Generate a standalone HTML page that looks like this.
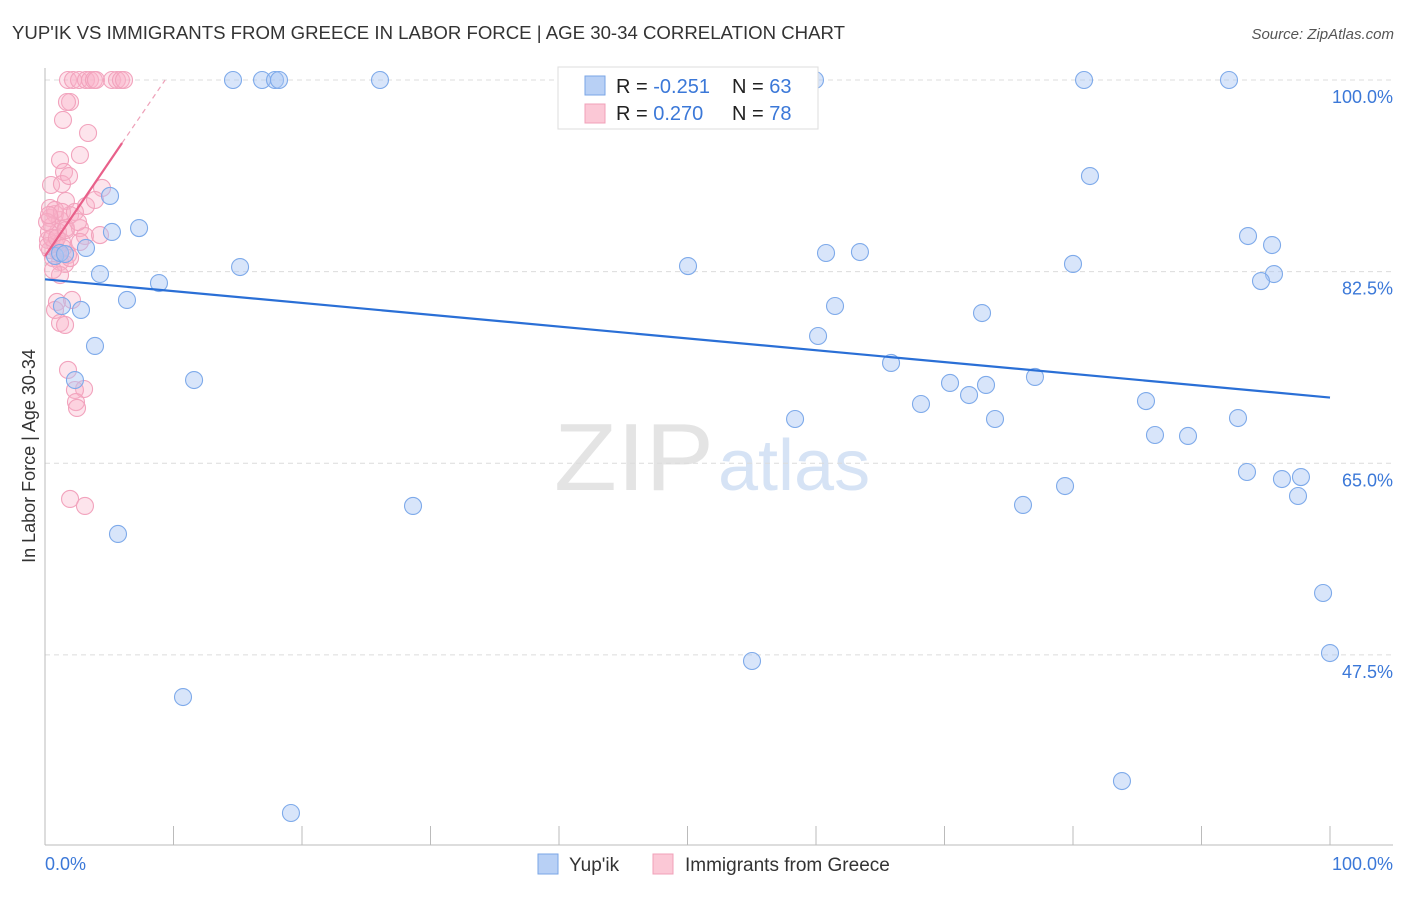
<!DOCTYPE html>
<html><head><meta charset="utf-8"><style>
body{margin:0;background:#fff;font-family:"Liberation Sans",sans-serif;}
svg text{font-family:"Liberation Sans",sans-serif;}
</style></head><body>
<svg id="c" width="1406" height="892" xmlns="http://www.w3.org/2000/svg">
<text x="12" y="39" font-size="18" fill="#333" textLength="833" lengthAdjust="spacingAndGlyphs">YUP'IK VS IMMIGRANTS FROM GREECE IN LABOR FORCE | AGE 30-34 CORRELATION CHART</text>
<text x="1394" y="39" font-size="15" fill="#555" font-style="italic" text-anchor="end">Source: ZipAtlas.com</text>
<text x="35" y="456" font-size="18" fill="#333" text-anchor="middle" transform="rotate(-90 35 456)">In Labor Force | Age 30-34</text>
<text x="554" y="490" font-size="96" fill="#e4e4e4" textLength="160" lengthAdjust="spacingAndGlyphs" font-family="Liberation Serif">ZIP</text>
<text x="718" y="490" font-size="72" fill="#d6e3f5">atlas</text>
<g id="grid"></g><g id="pts"></g><g id="lines"></g>
<g>
<rect x="558" y="67" width="260" height="62" fill="#fff" stroke="#ddd"/>
<rect x="585" y="76" width="20" height="19" fill="#b8d0f5" stroke="#7aa6e6"/>
<rect x="585" y="104" width="20" height="19" fill="#fbc8d6" stroke="#f0a0b8"/>
<text x="616" y="93" font-size="20" fill="#222">R = <tspan fill="#3b78d8">-0.251</tspan></text>
<text x="732" y="93" font-size="20" fill="#222">N = <tspan fill="#3b78d8">63</tspan></text>
<text x="616" y="120" font-size="20" fill="#222">R = <tspan fill="#3b78d8"> 0.270</tspan></text>
<text x="732" y="120" font-size="20" fill="#222">N = <tspan fill="#3b78d8">78</tspan></text>
</g>
<g>
<rect x="538" y="854" width="20" height="20" fill="#b8d0f5" stroke="#7aa6e6"/>
<text x="569" y="871" font-size="19" fill="#333">Yup'ik</text>
<rect x="653" y="854" width="20" height="20" fill="#fbc8d6" stroke="#f0a0b8"/>
<text x="685" y="871" font-size="19" fill="#333">Immigrants from Greece</text>
</g>
<text x="45" y="870" font-size="18" fill="#3b78d8">0.0%</text>
<text x="1393" y="870" font-size="18" fill="#3b78d8" text-anchor="end">100.0%</text>
</svg>
<script>
const yTicks=[100,82.5,65,47.5];
const yTickLabels=["100.0%","82.5%","65.0%","47.5%"];
const bluePx=[[233,80],[262,80],[275,80],[279,80],[380,80],[580,80],[815,80],[1084,80],[1229,80],[110,196],[1090,176],[139,228],[112,232],[86,248],[55,256],[100,274],[159,283],[240,267],[688,266],[826,253],[860,252],[1073,264],[1248,236],[1272,245],[1274,274],[1261,281],[127,300],[81,310],[835,306],[982,313],[818,336],[95,346],[891,363],[194,380],[75,380],[950,383],[986,385],[1035,377],[969,395],[921,404],[1146,401],[795,419],[995,419],[1238,418],[1155,435],[1188,436],[1247,472],[1282,479],[1301,477],[1298,496],[413,506],[1023,505],[1065,486],[118,534],[1323,593],[1330,653],[752,661],[183,697],[1122,781],[291,813],[62,306],[60,253],[65,254]];
const pinkPx=[[68,80],[73,80],[79,80],[86,80],[90,80],[94,80],[96,80],[112,80],[117,80],[121,80],[124,80],[70,102],[67,102],[63,120],[88,133],[80,155],[60,160],[64,172],[51,185],[62,184],[69,176],[102,188],[86,206],[66,201],[55,214],[50,218],[60,220],[70,215],[52,226],[58,232],[66,228],[80,228],[85,236],[100,235],[48,240],[55,244],[62,242],[50,250],[58,252],[68,255],[53,258],[60,262],[65,264],[49,232],[50,208],[55,210],[62,212],[75,212],[47,222],[48,246],[52,238],[80,242],[70,258],[60,275],[57,302],[72,300],[55,310],[60,323],[65,325],[68,370],[84,389],[75,390],[76,402],[77,408],[70,499],[85,506],[57,238],[63,248],[66,230],[49,215],[53,270],[95,200],[78,222]];
const yupikX=bluePx.map(p=>+((p[0]-45)/12.85).toFixed(2));
const yupikY=bluePx.map(p=>+(100-(p[1]-80)/10.95).toFixed(2));
const greeceX=pinkPx.map(p=>+((p[0]-45)/12.85).toFixed(2));
const greeceY=pinkPx.map(p=>+(100-(p[1]-80)/10.95).toFixed(2));
const blueTrend=[[0,81.8],[100,71.0]];
const pinkTrend=[[0,83.9],[6.0,94.25],[9.35,100]];
const X=v=>45+v*12.85, Y=v=>80+(100-v)*10.95;
const NS="http://www.w3.org/2000/svg";
function mk(t,a,p){const e=document.createElementNS(NS,t);for(const k in a)e.setAttribute(k,a[k]);p.appendChild(e);return e;}
const g=document.getElementById('grid');
yTicks.forEach((t,i)=>{
 const l=mk('line',{x1:45,x2:1393,y1:Y(t),y2:Y(t),stroke:'#dcdcdc','stroke-dasharray':'5,4'},g);
 
 
 const tx=mk('text',{x:1393,y:Y(t)+23,'font-size':18,fill:'#3b78d8','text-anchor':'end'},g);
 tx.textContent=yTickLabels[i];
 
 
});
const ax=mk('line',{x1:45,x2:1393,y1:845,y2:845,stroke:'#bbb'},g);


const ay=mk('line',{x1:45,x2:45,y1:68,y2:845,stroke:'#bbb'},g);


for(let i=1;i<=10;i++){const tk=mk('line',{x1:X(i*10),x2:X(i*10),y1:826,y2:845,stroke:'#bbb'},g);
 
 }
const P=document.getElementById('pts');
greeceX.forEach((x,i)=>{const c=mk('circle',{cx:X(x),cy:Y(greeceY[i]),r:8.5,fill:'rgba(248,178,200,0.35)',stroke:'#f2a3bd','stroke-width':1.1},P);
 
 });
yupikX.forEach((x,i)=>{const c=mk('circle',{cx:X(x),cy:Y(yupikY[i]),r:8.5,fill:'rgba(168,198,244,0.45)',stroke:'#7eaaea','stroke-width':1.1},P);
 
 });
const L=document.getElementById('lines');
const bl=mk('line',{x1:X(blueTrend[0][0]),y1:Y(blueTrend[0][1]),x2:X(blueTrend[1][0]),y2:Y(blueTrend[1][1]),stroke:'#2a6fd6','stroke-width':2.2},L);


const pl=mk('line',{x1:X(pinkTrend[0][0]),y1:Y(pinkTrend[0][1]),x2:X(pinkTrend[1][0]),y2:Y(pinkTrend[1][1]),stroke:'#e8608a','stroke-width':2.2},L);


const pd=mk('line',{x1:X(pinkTrend[1][0]),y1:Y(pinkTrend[1][1]),x2:X(pinkTrend[2][0]),y2:Y(pinkTrend[2][1]),stroke:'#eea0b8','stroke-width':1.2,'stroke-dasharray':'5,4'},L);


</script>
</body></html>
